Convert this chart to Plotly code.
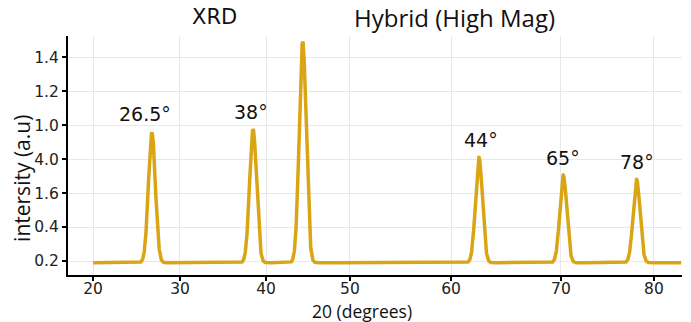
import numpy as np
import plotly.graph_objects as go

# ---- data (x in the axis' drawn units) ----
x_tick_labels = ["20", "30", "40", "50", "60", "70", "80"]
x_tick_pos = [20.0, 30.05, 40.0, 49.7, 61.4, 74.1, 84.85]   # tick spacing as drawn

y_tick_pos = [0.2, 0.4, 0.6, 0.8, 1.0, 1.2, 1.4]
y_tick_labels = ["0.2", "0.4", "1.6", "4.0", "1.0", "1.2", "1.4"]

peak_centers = [26.8, 38.5, 44.24, 64.62, 74.37, 82.85]
peak_heights = [0.955, 0.975, 1.49, 0.81, 0.705, 0.68]
peak_labels = ["26.5°", "38°", "44°", "44°", "65°", "78°"]
peak_label_shown = [True, True, False, True, True, True]
baseline = 0.19
peak_sigma = 0.4
x_start, x_end = 20.0, 88.0

# ---- build the pattern from the peak table ----
x = np.linspace(x_start, x_end, 6000)
y = np.full_like(x, baseline)
for c, h in zip(peak_centers, peak_heights):
    y += (h - baseline) * np.exp(-0.5 * ((x - c) / peak_sigma) ** 2)

fig = go.Figure()
fig.add_trace(go.Scatter(x=x, y=y, mode="lines",
                         line=dict(color="#D9A514", width=3.5),
                         hoverinfo="skip", showlegend=False))

label_xshift = [-7, -2, 0, 2, 0, 0]
label_yshift = [6, 4, 0, 4, 4, 4]
for c, h, t, show, dx, dy in zip(peak_centers, peak_heights, peak_labels,
                                 peak_label_shown, label_xshift, label_yshift):
    if not show:
        continue
    fig.add_annotation(x=c, y=h, text=t, showarrow=False, xref="x", yref="y",
                       yanchor="bottom", xanchor="center", yshift=dy, xshift=dx,
                       font=dict(family="DejaVu Sans", size=19, color="#111111"))

# titles
fig.add_annotation(text="XRD", xref="paper", yref="paper", x=0.239, y=1.078,
                   xanchor="center", yanchor="middle", showarrow=False,
                   font=dict(family="DejaVu Sans", size=21, color="#111111"))
fig.add_annotation(text="Hybrid (High Mag)", xref="paper", yref="paper", x=0.629, y=1.078,
                   xanchor="center", yanchor="middle", showarrow=False,
                   font=dict(family="Open Sans", size=24, color="#111111"))
fig.add_annotation(text="20 (degrees)", xref="paper", yref="paper", x=0.479, y=-0.152,
                   xanchor="center", yanchor="middle", showarrow=False,
                   font=dict(family="Open Sans", size=17.5, color="#111111"))
fig.add_annotation(text="intersity (a.u)", xref="paper", yref="paper", x=-0.075, y=0.406,
                   xanchor="center", yanchor="middle", showarrow=False, textangle=-90,
                   font=dict(family="Open Sans", size=21, color="#111111"))

fig.update_layout(
    width=691, height=322,
    margin=dict(l=68, r=9, t=36, b=47),
    paper_bgcolor="white", plot_bgcolor="white",
    xaxis=dict(range=[17.1, 88.1], tickvals=x_tick_pos, ticktext=x_tick_labels,
               showgrid=True, gridcolor="#e8e8e8", gridwidth=1,
               showline=True, linecolor="black", linewidth=2,
               ticks="outside", ticklen=4, tickwidth=1.5, tickcolor="black",
               ticklabelstandoff=-6,
               tickfont=dict(family="DejaVu Sans", size=15.5, color="#222222"),
               zeroline=False, fixedrange=True),
    yaxis=dict(range=[0.118, 1.524], tickvals=y_tick_pos, ticktext=y_tick_labels,
               showgrid=True, gridcolor="#e8e8e8", gridwidth=1,
               showline=True, linecolor="black", linewidth=2,
               ticks="outside", ticklen=4, tickwidth=1.5, tickcolor="black",
               tickfont=dict(family="DejaVu Sans", size=15.5, color="#222222"),
               zeroline=False, fixedrange=True),
)

fig.write_html("out.html")
